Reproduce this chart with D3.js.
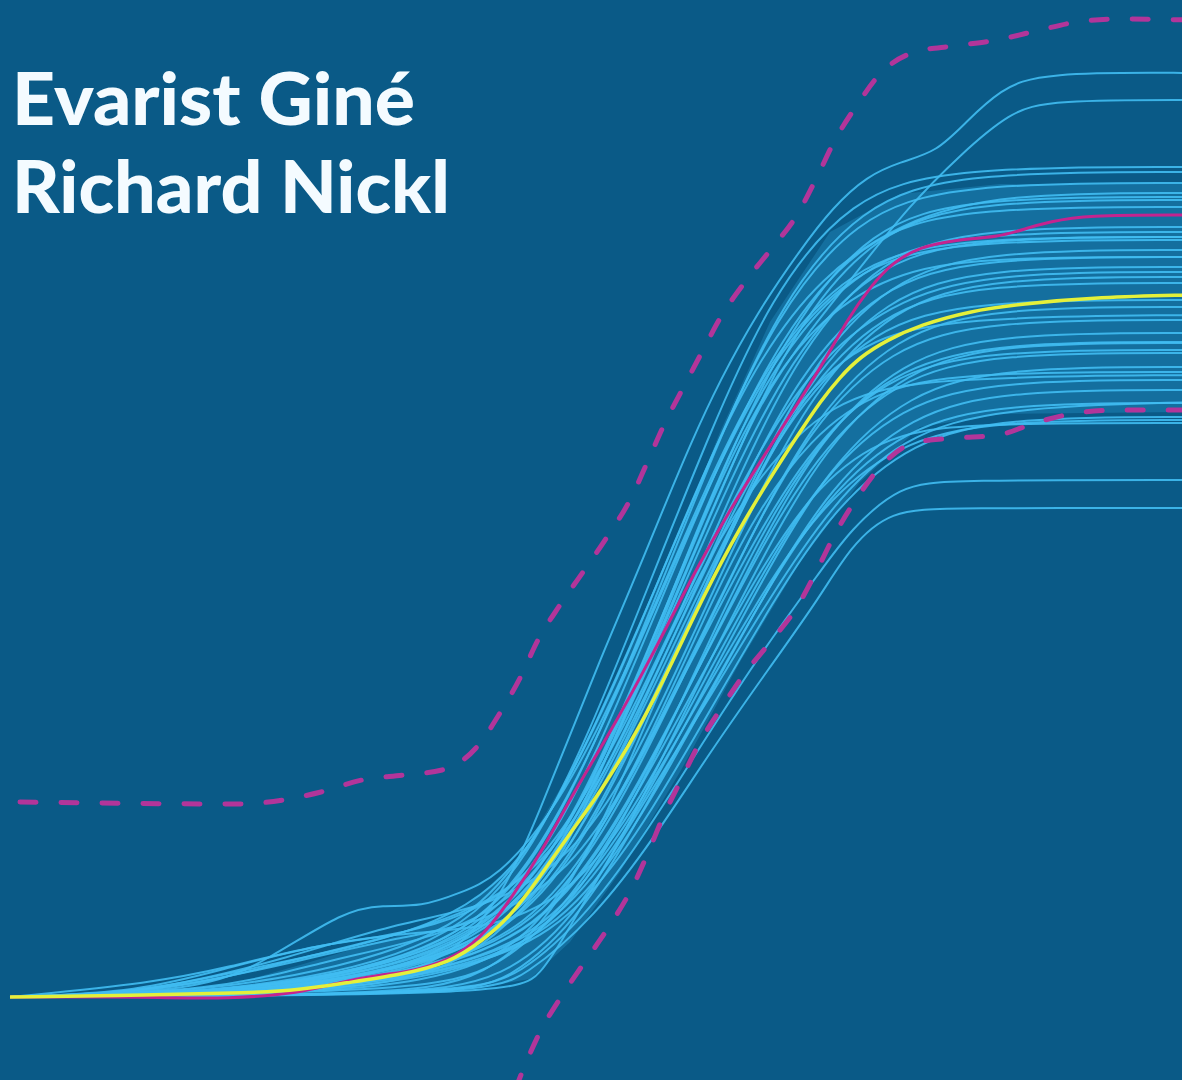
<!DOCTYPE html>
<html>
<head>
<meta charset="utf-8">
<script src="https://cdn.jsdelivr.net/npm/d3@7/dist/d3.min.js"></script>
<style>
  html, body { margin: 0; padding: 0; background: #0a5a87; overflow: hidden; }
  svg { display: block; }
</style>
</head>
<body>
<script>
// x in tenths of the width, y as share of the rise (0 = baseline)
var authors = ["Evarist Giné", "Richard Nickl"];

var truth = [[1,0],[15,0.2],[25,0.4],[30,0.7],[34.5,1.4],[40,2.2],[45,3.4],[48.3,5.7],[51,8],[54,12],[57,16.4],[60,20.4],[64,27],[67.2,33.4],[70.3,40],[74,47],[77.7,53],[80,56.5],[82,59.5],[84,62],[86,64],[88.7,65.7],[92,67.2],[97,68.6],[102,69.3],[110,70],[119,70.2]];

var estimate = [[1,0],[15,0],[23,-0.2],[30,0.4],[34,1.5],[38,2.2],[42,2.7],[46,4.2],[48.7,6.6],[51,9.7],[54,14.2],[57.5,20.7],[61,26.4],[65,33.7],[69.7,43],[73,48.7],[76,53.5],[80,59.7],[82.7,64],[84.7,67.7],[87,71],[89.3,73.5],[92,75],[95.3,75.7],[100,76],[102.7,76.9],[105,77.5],[108.3,78.2],[119,78.2]];

var bandUpper = [[2,19.5],[24,19.3],[28.3,19.7],[32.1,20.5],[36.2,21.7],[40.4,22.2],[44.2,22.7],[47.6,24.9],[50,28.4],[52,31.9],[53.8,35.7],[56,39.2],[58.3,42.5],[60.7,46],[63,49.7],[64.7,53.4],[66.3,57],[68.3,60.9],[70.2,64.5],[72.2,68.2],[74.5,71.5],[77.2,74.9],[79.7,78.2],[81.7,82],[83.5,85.7],[85.7,89.2],[88,92.3],[91.5,94.5],[95.3,95.1],[99.7,95.7],[104,96.7],[107.7,97.5],[112,97.8],[119,97.7]];

var bandLower = [[51.5,-9.3],[52.3,-7.3],[54,-3.5],[56.1,0],[58.4,3.4],[61,7.2],[63.2,10.9],[64.8,14.4],[66.3,18],[68.2,21.9],[70,25.5],[72.2,29],[74.5,32.4],[77.2,35.7],[79.7,39],[81.7,42.7],[83.5,46.3],[85.7,49.9],[88.2,53.2],[91.7,55.5],[95.7,55.9],[99.8,56.2],[103.8,57.5],[107.7,58.4],[112,58.7],[119,58.7]];

// dense core of the sample paths: upper edge left to right, then lower edge back
var coreUpper = [[20,0.4],[30,3.2],[40,6.2],[47,9.3],[52,14],[57,22.5],[62,32.5],[67,44],[72,56.5],[77,67.5],[83,76.5],[90,80.3],[100,81.3],[119,81.3]];
var coreLower = [[119,58.5],[100,58.3],[92,57],[86,51.5],[80,43.5],[74,33.5],[68,22.5],[62,12.5],[57,5.5],[53,1.8],[45,0.4],[30,0.3],[20,0.2]];

var topPaths = [
  [[1,0],[25,0.4],[35,1.2],[42,2.7],[47,5.7],[51,11.7],[54,18.7],[57,26.2],[60,33.7],[63,40.7],[66.7,49.7],[69,55.2],[72,61.7],[75.7,68.4],[80,74.7],[83.3,79],[86.7,82.1],[90,83.5],[93.7,84.5],[96.7,87.6],[100,90.7],[104,92.5],[120,92.4]],
  [[1,0],[28,0.4],[38,1.2],[45,2.9],[51,7.2],[56,13.2],[61,24.7],[66,36.7],[71,48.2],[76,59.7],[81,66.7],[86,72.9],[91,79.2],[96,84.2],[101,88.5],[105,89.7],[120,89.7]]
];

var upperPaths = [
  [[1,0],[25,0.4],[45,5],[53,14],[59,26.5],[65,41.5],[71,56.5],[77,70],[85,80],[95,83],[120,83]],
  [[1,0],[26,0.4],[46,5],[54,14],[60,26.4],[66,41],[72,56],[78,69.3],[86,79.2],[96,82.5],[120,82.5]],
  [[1,0],[15,0.5],[25.5,3],[45.5,7],[53.5,15],[59.5,27],[65.5,40.7],[71.5,55],[77.5,68],[85.5,78],[95.5,81.4],[120,81.4]],
  [[1,0],[27,0.3],[47,4.8],[55,13.6],[61,25.6],[67,40],[73,54.4],[79,67],[87,77],[97,80],[120,80]],
  [[1,0],[24,0.5],[44,5.5],[51,12],[56,20],[61,30],[66,42],[71,54],[76,64],[82,72],[90,77.5],[100,80.4],[120,80.4]],
  [[1,0],[26,0.4],[46,4.7],[54,13.4],[60,25],[66,39.5],[72,53.7],[78,66],[86,75.8],[96,79],[120,79]],
  [[1,0],[28,0.3],[47.5,4.5],[55.5,13.5],[61.5,25.5],[67.5,39.8],[73.5,54],[79.5,67],[87.5,76.5],[97.5,79.7],[120,79.7]],
  [[1,0],[27,0.4],[47,4.6],[55,13],[61,24.3],[67,38],[73,51.7],[79,63.8],[87,73],[97,76],[120,76]],
  [[1,0],[18,0.6],[28,3.5],[48,8],[56,15],[62,25],[68,38.5],[74,52.4],[80,64.7],[88,74],[98,77],[120,77]],
  [[1,0],[25,0.4],[45,4.5],[53,12.9],[59,24.2],[65,37.8],[71,51.5],[77,63.6],[85,72.7],[95,75.7],[120,75.7]],
  [[1,0],[26,0.5],[40,3.5],[48,6.8],[54,12.5],[59,21],[64,32.5],[69,45],[74,57],[80,67],[87,73.5],[96,76.5],[120,76.5]],
  [[1,0],[20,0.5],[26.8,3.7],[34.5,8.7],[38.3,9.2],[42.1,9],[46,10.4],[49.8,12],[55,18],[60,27],[65,38],[71,52],[77,64],[85,73],[95,76],[120,76]]
];

var middlePaths = [
  [[1,0],[27.8,0.4],[47.8,4.4],[55.8,12.6],[61.8,23.7],[67.8,37],[73.8,50.3],[79.8,62.2],[87.8,71],[97.8,74],[120,74]],
  [[1,0],[22,0.6],[32,3.5],[44,6],[51,9.5],[56,15.5],[61,25],[66,37],[71,49.5],[76,60],[82,68],[90,72.8],[100,74],[120,74]],
  [[1,0],[38,0.2],[48.8,1.5],[56.8,10],[62.8,23],[68.8,37.3],[74.8,50.8],[80.8,62.7],[88.8,71.7],[98.8,74.7],[120,74.7]],
  [[1,0],[28.5,0.4],[48.5,4.4],[56.5,12.4],[62.5,23.4],[68.5,36.5],[74.5,49.6],[80.5,61.3],[88.5,70],[98.5,73],[120,73]],
  [[1,0],[15,0.4],[29.2,4],[40,7.5],[49.2,9],[57.2,14],[63.2,23],[69.2,36],[75.2,49],[81.2,60.5],[89.2,69],[99.2,72],[120,72]],
  [[1,0],[28,0.4],[48,4.3],[56,12.1],[62,22.8],[68,35.7],[74,48.5],[80,60],[88,68.5],[98,71.4],[120,71.4]],
  [[1,0],[27.2,0.3],[47.2,4.2],[55.2,11.8],[61.2,22.3],[67.2,34.8],[73.2,47.4],[79.2,58.5],[87.2,66.9],[97.2,69.7],[120,69.7]],
  [[1,0],[29.5,0.3],[49.5,4.1],[57.5,11.7],[63.5,22],[69.5,34.5],[75.5,47],[81.5,58],[89.5,66.2],[99.5,69],[120,69]],
  [[1,0],[30,0.4],[47,4],[54,11],[60,21],[66,33],[72,46],[78,57.5],[85,65],[94,68],[120,68.2]],
  [[1,0],[16,0.5],[29,3.4],[40,6],[49,7.5],[57,12.5],[63,21.7],[69,33.8],[75,46],[81,56.9],[89,65],[99,67.7],[120,67.7]],
  [[1,0],[30,0.3],[50,4],[58,11.3],[64,21.2],[70,33.2],[76,45.2],[82,55.8],[90,63.7],[100,66.4],[120,66.4]],
  [[1,0],[33,0.3],[50,3.2],[57,9],[62,17],[67,27],[72,38],[77,48],[83,57],[90,63],[100,65.5],[120,65.5]],
  [[1,0],[28.5,0.3],[48.5,3.9],[56.5,11],[62.5,20.7],[68.5,32.4],[74.5,44],[80.5,54.3],[88.5,62.1],[98.5,64.7],[120,64.7]],
  [[1,0],[40,0.2],[50.5,1.5],[58.5,9],[64.5,20.3],[70.5,32.7],[76.5,44.5],[82.5,55],[90.5,62.8],[100.5,65.4],[120,65.4]],
  [[1,0],[29.5,0.3],[49.5,3.9],[57.5,10.9],[63.5,20.6],[69.5,32.2],[75.5,43.8],[81.5,54.1],[89.5,61.8],[99.5,64.4],[120,64.4]],
  [[1,0],[15.3,1.4],[23,3],[30.6,5],[38.3,6],[45,7.5],[52,11],[58,19],[64,30],[70,43],[76,55],[82,64],[90,70],[100,72.5],[120,72.5]]
];

var lowerPaths = [
  [[1,0],[30.8,0.3],[50.8,3.8],[58.8,10.7],[64.8,20.2],[70.8,31.5],[76.8,42.8],[82.8,52.9],[90.8,60.5],[100.8,63],[120,63]],
  [[1,0],[36,0.3],[49,3],[55,8.5],[60,16.5],[65,26],[70,37],[75,47.5],[81,56],[88,61],[98,62.5],[120,62.5]],
  [[1,0],[14,0.5],[23,3],[33,5.5],[42,6.5],[50,7],[58,11],[64,19.7],[70,30.8],[76,42],[82,51.8],[90,59.2],[100,61.7],[120,61.7]],
  [[1,0],[34,0.8],[44,4.5],[50,8],[55,13],[60,21.5],[65,32],[70,42.5],[76,52.5],[83,59.5],[92,62],[120,62.2]],
  [[1,0],[31,0.3],[51,3.6],[59,10.3],[65,19.4],[71,30.3],[77,41.3],[83,51],[91,58.3],[101,60.7],[120,60.7]],
  [[1,0],[45,0.3],[51,1.5],[58.5,8.5],[64.5,19],[70.5,29.7],[76.5,40.4],[82.5,49.9],[90.5,57],[100.5,59.4],[120,59.4]],
  [[1,0],[31.2,0.3],[51.2,3.5],[59.2,9.9],[65.2,18.6],[71.2,29],[77.2,39.4],[83.2,48.7],[91.2,55.7],[101.2,58],[120,58]],
  [[1,0],[29.5,0.3],[49.5,3.5],[57.5,9.8],[63.5,18.5],[69.5,28.9],[75.5,39.2],[81.5,48.5],[89.5,55.4],[99.5,57.7],[120,57.7]],
  [[1,0],[42,0.5],[50,2.8],[57,9.5],[63,19],[69,30],[75,41],[81,50.5],[88,56],[96,57.4],[120,57.4]],
  [[1,0],[51,0.2],[54,2],[57,7],[61,14],[66,22],[71,30],[77,40],[83,49],[90,56],[100,59],[120,59.5]],
  [[1,0],[46,0.3],[52,2],[59,8.5],[65,17],[70.5,25.8],[76.5,35],[82,42.5],[85,46.7],[90,51.2],[95,51.7],[120,51.7]],
  [[1,0],[48,0.2],[52.5,2],[59.5,8],[65.5,16],[71,24.5],[77,33],[82,40],[85,45],[89,48.7],[95,48.9],[120,48.9]]
];

var width = 1182, height = 1080;

var svg = d3.select("body").append("svg")
    .attr("width", width)
    .attr("height", height);

svg.append("rect")
    .attr("width", width)
    .attr("height", height)
    .attr("fill", "#0a5a87");

var x = d3.scaleLinear().domain([0, 118.2]).range([0, width]);
var y = d3.scaleLinear().domain([0, 100]).range([997, -3]);

var line = d3.line()
    .x(function(d) { return x(d[0]); })
    .y(function(d) { return y(d[1]); })
    .curve(d3.curveMonotoneX);

var smooth = d3.line()
    .x(function(d) { return x(d[0]); })
    .y(function(d) { return y(d[1]); })
    .curve(d3.curveBasis);

var outline = d3.line()
    .x(function(d) { return x(d[0]); })
    .y(function(d) { return y(d[1]); })
    .curve(d3.curveLinearClosed);

// soft glow behind the densest part of the bundle
svg.append("path")
    .attr("d", outline(coreUpper.concat(coreLower)))
    .attr("fill", "#33ace4")
    .attr("fill-opacity", 0.26);

var samples = topPaths.concat(upperPaths, middlePaths, lowerPaths);

svg.append("g").selectAll("path")
    .data(samples)
    .enter().append("path")
    .attr("d", smooth)
    .attr("fill", "none")
    .attr("stroke", "#40bcf2")
    .attr("stroke-width", 2)
    .attr("stroke-opacity", 0.9);

svg.append("g").selectAll("path")
    .data([bandUpper, bandLower])
    .enter().append("path")
    .attr("d", line)
    .attr("fill", "none")
    .attr("stroke", "#b2359a")
    .attr("stroke-width", 5)
    .attr("stroke-dasharray", "16 25")
    .attr("stroke-linecap", "round");

svg.append("path")
    .attr("d", smooth(estimate))
    .attr("fill", "none")
    .attr("stroke", "#c4248f")
    .attr("stroke-width", 3);

svg.append("path")
    .attr("d", smooth(truth))
    .attr("fill", "none")
    .attr("stroke", "#e4f03a")
    .attr("stroke-width", 3.5);

var names = svg.append("g")
    .attr("font-family", "Lato, 'Open Sans', sans-serif")
    .attr("font-weight", 900)
    .attr("font-size", 72)
    .attr("fill", "#f4fbff");

var nameBox = [[12, 125, 403], [12, 213, 438]];

names.selectAll("text")
    .data(authors)
    .enter().append("text")
    .text(function(d) { return d; })
    .attr("transform", function(d, i) {
        var w = this.getComputedTextLength();
        var k = nameBox[i][2] / w;
        return "translate(" + nameBox[i][0] + "," + nameBox[i][1] + ") scale(" + k + ",1)";
    });
</script>
</body>
</html>
